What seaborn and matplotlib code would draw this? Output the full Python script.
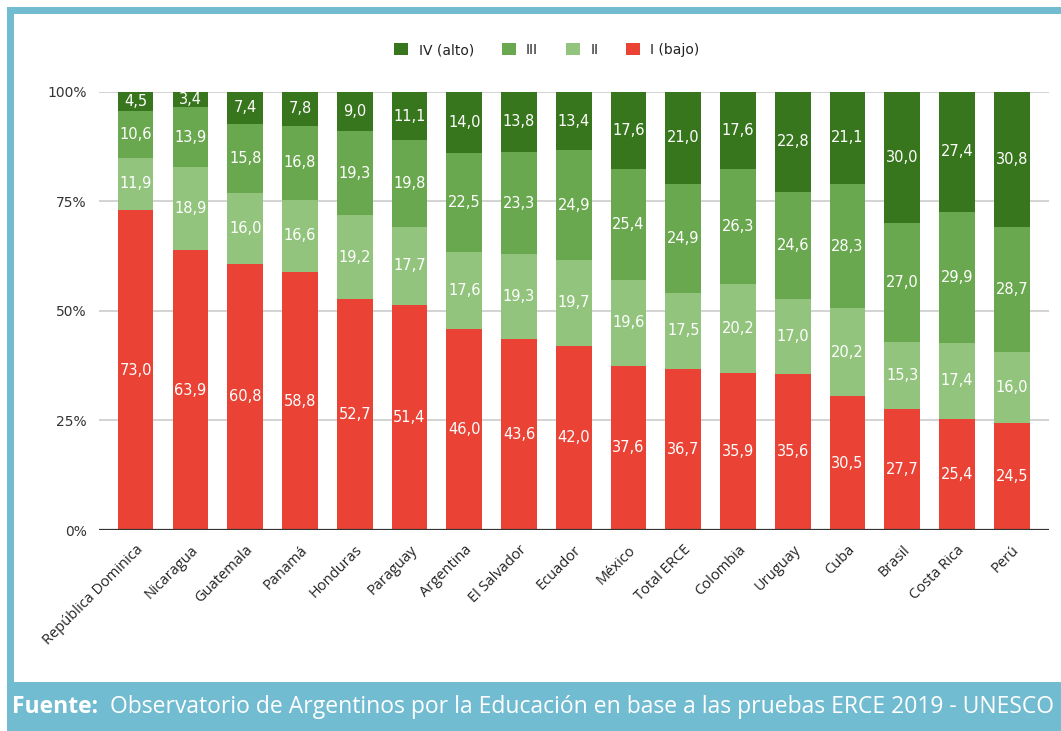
import numpy as np
import pandas as pd
import matplotlib
matplotlib.use("Agg")
import matplotlib.pyplot as plt
import seaborn as sns
from matplotlib.patches import Rectangle

# datos (porcentaje de estudiantes por nivel)
paises = ["República Dominica", "Nicaragua", "Guatemala", "Panamá", "Honduras",
          "Paraguay", "Argentina", "El Salvador", "Ecuador", "México", "Total ERCE",
          "Colombia", "Uruguay", "Cuba", "Brasil", "Costa Rica", "Perú"]
nivel_I = [73.0, 63.9, 60.8, 58.8, 52.7, 51.4, 46.0, 43.6, 42.0, 37.6, 36.7,
           35.9, 35.6, 30.5, 27.7, 25.4, 24.5]
nivel_II = [11.9, 18.9, 16.0, 16.6, 19.2, 17.7, 17.6, 19.3, 19.7, 19.6, 17.5,
            20.2, 17.0, 20.2, 15.3, 17.4, 16.0]
nivel_III = [10.6, 13.9, 15.8, 16.8, 19.3, 19.8, 22.5, 23.3, 24.9, 25.4, 24.9,
             26.3, 24.6, 28.3, 27.0, 29.9, 28.7]
nivel_IV = [4.5, 3.4, 7.4, 7.8, 9.0, 11.1, 14.0, 13.8, 13.4, 17.6, 21.0,
            17.6, 22.8, 21.1, 30.0, 27.4, 30.8]

niveles = ["I (bajo)", "II", "III", "IV (alto)"]
colores = {"I (bajo)": "#ea4335", "II": "#93c47d", "III": "#6aa84f", "IV (alto)": "#38761d"}

df = pd.DataFrame({"pais": paises, "I (bajo)": nivel_I, "II": nivel_II,
                   "III": nivel_III, "IV (alto)": nivel_IV})
total = df[niveles].sum(axis=1)
pct = df[niveles].div(total, axis=0) * 100
acum = pct.cumsum(axis=1)

sns.set_style("white")
plt.rcParams["font.family"] = ["DejaVu Sans"]

W, H = 1061, 731
fig = plt.figure(figsize=(W / 100, H / 100), dpi=100)
fig.patch.set_facecolor("white")

azul = "#72bcd1"
fig.add_artist(Rectangle((7 / W, 0), 1, 1 - 7 / H, transform=fig.transFigure,
                         facecolor=azul, edgecolor="none", zorder=0))
fig.add_artist(Rectangle((13.5 / W, 49 / H), 1, (682 - 14) / H, transform=fig.transFigure,
                         facecolor="white", edgecolor="none", zorder=0))

ax = fig.add_axes([99 / W, 1 - 530 / H, (1049 - 99) / W, (530 - 91.7) / H])
ax.set_facecolor("none")

# barras apiladas: se dibuja el acumulado de arriba hacia abajo
for nivel in reversed(niveles):
    d = pd.DataFrame({"pais": paises, "valor": acum[nivel].values})
    sns.barplot(data=d, x="pais", y="valor", color=colores[nivel], width=0.65,
                saturation=1, ax=ax, label=nivel, zorder=3, linewidth=0)

for i in range(len(paises)):
    base = 0
    for nivel in niveles:
        h = pct[nivel].iloc[i]
        txt = f"{df[nivel].iloc[i]:.1f}".replace(".", ",")
        ax.text(i, base + h / 2, txt, ha="center", va="center", color="white",
                fontsize=10.5, zorder=5)
        base += h

ax.set_ylim(0, 100)
ax.set_xlim(-0.67, len(paises) - 1 + 0.68)
ax.set_yticks([0, 25, 50, 75, 100])
ax.set_yticklabels(["0%", "25%", "50%", "75%", "100%"], color="#333333", fontsize=10)
for y in [25, 50, 75, 100]:
    ax.axhline(y, color="#cccccc", lw=1.2, zorder=1)
ax.axhline(0, color="#333333", lw=1.6, zorder=4)
sns.despine(ax=ax, left=True, bottom=True)
ax.tick_params(axis="both", length=0, pad=9)
ax.set_xlabel("")
ax.set_ylabel("")
ax.set_xticks(range(len(paises)))
ax.set_xticklabels(paises, rotation=45, ha="right", rotation_mode="anchor",
                   fontsize=10.5, family="Open Sans", color="#222222")

handles, labels = ax.get_legend_handles_labels()
if ax.get_legend() is not None:
    ax.get_legend().remove()
orden = [labels.index(n) for n in ["IV (alto)", "III", "II", "I (bajo)"]]
fig.legend([handles[k] for k in orden], [labels[k] for k in orden],
           loc="center", bbox_to_anchor=(547 / W, 1 - 50 / H), ncol=4,
           frameon=False, fontsize=10, handlelength=1.0, handleheight=1.0,
           handletextpad=0.75, columnspacing=2.0, labelcolor="#222222")

fig.text(12 / W, 1 - 707 / H, "Fuente:", color="white", fontsize=16.5,
         family="Open Sans", fontweight="bold", va="center", ha="left")
fig.text(110 / W, 1 - 707 / H,
         "Observatorio de Argentinos por la Educación en base a las pruebas ERCE 2019 - UNESCO",
         color="white", fontsize=16.5, family="Open Sans", va="center", ha="left")

fig.savefig("out.png", dpi=100)
